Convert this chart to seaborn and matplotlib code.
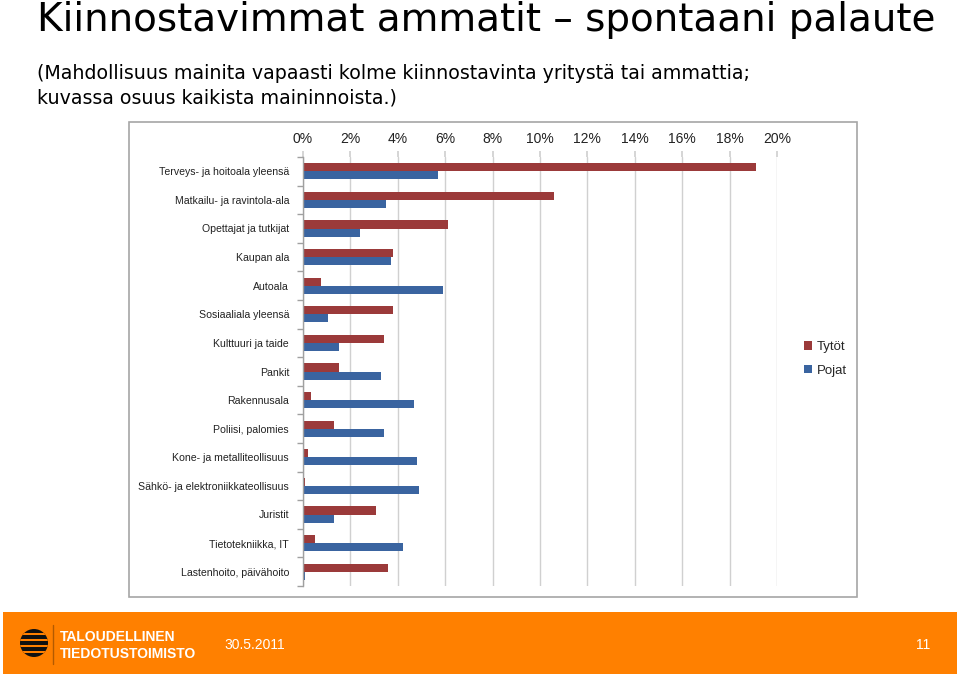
import numpy as np
import pandas as pd
import matplotlib
matplotlib.use("Agg")
import matplotlib.pyplot as plt
import matplotlib.patches as mpatches
from matplotlib.ticker import FuncFormatter, FixedLocator
import seaborn as sns

# ---- data ----
categories = [
    "Terveys- ja hoitoala yleensä",
    "Matkailu- ja ravintola-ala",
    "Opettajat ja tutkijat",
    "Kaupan ala",
    "Autoala",
    "Sosiaaliala yleensä",
    "Kulttuuri ja taide",
    "Pankit",
    "Rakennusala",
    "Poliisi, palomies",
    "Kone- ja metalliteollisuus",
    "Sähkö- ja elektroniikkateollisuus",
    "Juristit",
    "Tietotekniikka, IT",
    "Lastenhoito, päivähoito",
]
tytot = [19.1, 10.6, 6.1, 3.8, 0.75, 3.8, 3.4, 1.5, 0.35, 1.3, 0.2, 0.1, 3.1, 0.5, 3.6]
pojat = [5.7, 3.5, 2.4, 3.7, 5.9, 1.05, 1.5, 3.3, 4.7, 3.4, 4.8, 4.9, 1.3, 4.2, 0.07]
series_names = ["Tytöt", "Pojat"]
series_colors = ["#9B3A3A", "#3A64A0"]
x_ticks = [0, 2, 4, 6, 8, 10, 12, 14, 16, 18, 20]

title = "Kiinnostavimmat ammatit – spontaani palaute"
subtitle1 = "(Mahdollisuus mainita vapaasti kolme kiinnostavinta yritystä tai ammattia;"
subtitle2 = "kuvassa osuus kaikista maininnoista.)"
footer_org = ["TALOUDELLINEN", "TIEDOTUSTOIMISTO"]
footer_date = "30.5.2011"
footer_page = "11"

df = pd.DataFrame({
    "Ammatti": categories * 2,
    "Osuus": tytot + pojat,
    "Sarja": [series_names[0]] * len(categories) + [series_names[1]] * len(categories),
})

sns.set_theme(style="white")
plt.rcParams["font.family"] = ["Liberation Sans", "DejaVu Sans"]

W, H = 960, 676
fig = plt.figure(figsize=(W / 100, H / 100), dpi=100)

def fx(px):
    return px / W

def fy(py):
    return 1 - py / H

# background overlay axes for decorations (pixel coordinates)
bg = fig.add_axes([0, 0, 1, 1], zorder=0)
bg.set_xlim(0, W)
bg.set_ylim(H, 0)
bg.axis("off")

# chart frame
bg.add_patch(mpatches.Rectangle((129, 122), 728, 475, facecolor="white",
                                edgecolor="#A6A6A6", linewidth=1.2))

# title and subtitle
bg.text(37, 31, title, fontsize=28, family="DejaVu Sans", color="black", va="baseline", ha="left")
bg.text(37, 79, subtitle1, fontsize=13.7, family="DejaVu Sans", color="black", va="baseline", ha="left")
bg.text(37, 103, subtitle2, fontsize=13.7, family="DejaVu Sans", color="black", va="baseline", ha="left")

# footer band
orange = "#FF8000"
bg.add_patch(mpatches.Rectangle((3, 612), 954, 62, facecolor=orange, edgecolor="none"))
# logo: striped ball
cx, cy, r = 34, 643, 14
circ = mpatches.Circle((cx, cy), r, facecolor="#111111", edgecolor="none")
bg.add_patch(circ)
for yy in [632.5, 638.5, 644.5, 650.5]:
    stripe = mpatches.Rectangle((cx - r - 2, yy), 2 * r + 4, 2.2, facecolor=orange, edgecolor="none")
    bg.add_patch(stripe)
    stripe.set_clip_path(circ)
bg.plot([53, 53], [625, 664], color="#B35A00", linewidth=1)
bg.text(60, 641, footer_org[0], fontsize=10, fontweight="bold", color="white", va="baseline")
bg.text(60, 658, footer_org[1], fontsize=10, fontweight="bold", color="white", va="baseline")
bg.text(224, 649, footer_date, fontsize=10, color="white", va="baseline")
bg.text(930, 649, footer_page, fontsize=10, color="white", va="baseline", ha="right")

# ---- main chart ----
ax = fig.add_axes([fx(303), fy(586), fx(777) - fx(303), fy(157) - fy(586)], zorder=2)
ax.patch.set_alpha(0)
sns.barplot(data=df, y="Ammatti", x="Osuus", hue="Sarja", order=categories,
            hue_order=series_names, palette=series_colors, orient="h",
            width=0.56, gap=0, dodge=True, ax=ax, legend=False, saturation=1,
            edgecolor="none")

ax.set_xlim(0, 20)
ax.set_ylim(len(categories) - 0.5, -0.5)
ax.xaxis.set_major_locator(FixedLocator(x_ticks))
ax.xaxis.set_major_formatter(FuncFormatter(lambda v, p: f"{int(v)}%"))
ax.xaxis.tick_top()
ax.xaxis.set_label_position("top")
ax.set_xlabel("")
ax.set_ylabel("")
ax.grid(axis="x", color="#D0D0D0", linewidth=1)
ax.set_axisbelow(True)
for s in ["top", "right", "bottom"]:
    ax.spines[s].set_visible(False)
ax.spines["left"].set_color("#A0A0A0")
ax.spines["left"].set_linewidth(1)

ax.tick_params(axis="x", which="major", top=True, length=4, color="#D0D0D0",
               labelsize=10, labelcolor="#222222", pad=4)
ax.tick_params(axis="y", which="major", length=0, labelsize=7.6, labelcolor="#222222", pad=10)
ax.yaxis.set_minor_locator(FixedLocator(np.arange(-0.5, len(categories), 1.0)))
ax.tick_params(axis="y", which="minor", left=True, length=4, color="#A0A0A0")

handles = [mpatches.Patch(facecolor=c, edgecolor="none", label=n)
           for n, c in zip(series_names, series_colors)]
fig.legend(handles=handles, loc="center left", bbox_to_anchor=(fx(792), fy(359)),
           frameon=False, handlelength=0.6, handleheight=0.6, handletextpad=0.4,
           labelspacing=0.9, prop={"size": 9.5})

fig.savefig("out.png", dpi=100)
